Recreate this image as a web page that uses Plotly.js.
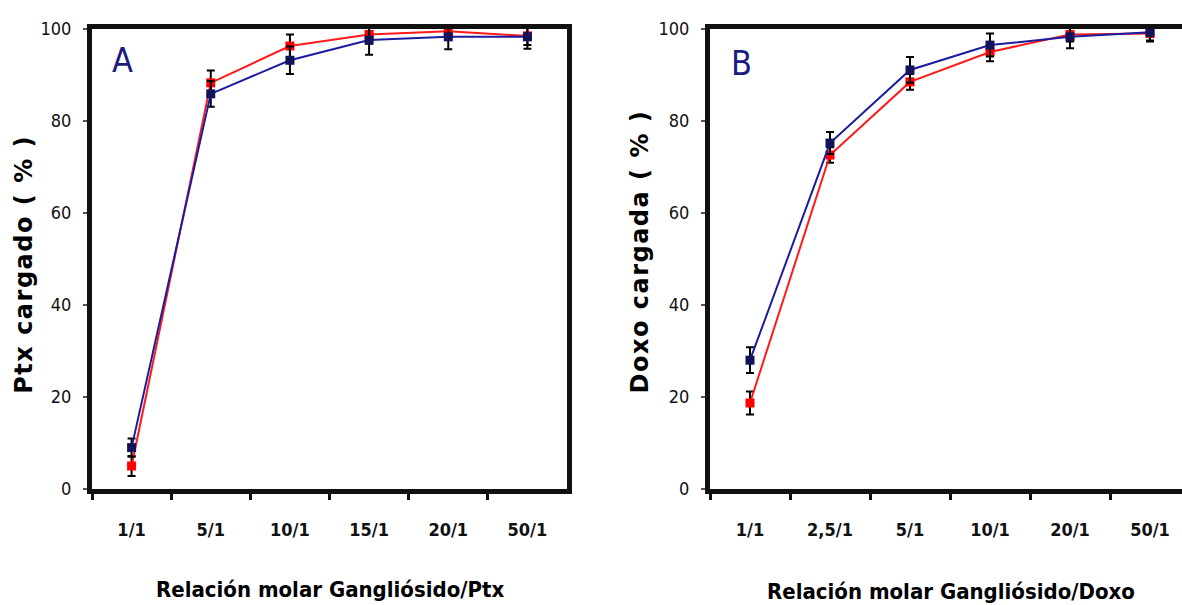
<!DOCTYPE html>
<html>
<head>
<meta charset="utf-8">
<script src="https://cdn.plot.ly/plotly-3.0.1.min.js"></script>
<style>
html,body{margin:0;padding:0;background:#fff;overflow:hidden;}
#chart{width:1182px;height:605px;}
</style>
</head>
<body>
<div id="chart"></div>
<script>
// Panel A: Ptx
const catsA = ['1/1', '5/1', '10/1', '15/1', '20/1', '50/1'];
const redA = [5, 88.3, 96.3, 98.8, 99.5, 98.5];
const redAerr = [2.2, 2.7, 2.5, 2.0, 1.5, 2.0];
const blueA = [9, 85.9, 93.2, 97.6, 98.3, 98.3];
const blueAerr = [2.0, 2.8, 3.0, 3.2, 2.7, 2.6];

// Panel B: Doxo
const catsB = ['1/1', '2,5/1', '5/1', '10/1', '20/1', '50/1'];
const redB = [18.7, 72.6, 88.5, 95.0, 98.8, 99.0];
const redBerr = [2.5, 1.7, 1.7, 2.0, 1.5, 1.5];
const blueB = [28.0, 75.2, 91.1, 96.5, 98.3, 99.3];
const blueBerr = [2.8, 2.4, 2.8, 2.5, 2.5, 2.0];

const yTicks = [0, 20, 40, 60, 80, 100];

const W = 1182, H = 605;
const RED_LINE = '#ff1a1a', RED_MK = '#ff0000';
const BLUE_LINE = '#1c1ca0', BLUE_MK = '#13135a';

function series(x, y, err, lc, mc, xa, ya) {
  return {
    type: 'scatter', mode: 'lines+markers', x: x, y: y,
    xaxis: xa, yaxis: ya, cliponaxis: false, showlegend: false,
    line: {color: lc, width: 2},
    marker: {symbol: 'square', size: 9, color: mc},
    error_y: {type: 'data', array: err, visible: true, color: '#000', thickness: 2, width: 4}
  };
}

const data = [
  series(catsA, redA, redAerr, RED_LINE, RED_MK, 'x', 'y'),
  series(catsA, blueA, blueAerr, BLUE_LINE, BLUE_MK, 'x', 'y'),
  series(catsB, redB, redBerr, RED_LINE, RED_MK, 'x2', 'y2'),
  series(catsB, blueB, blueBerr, BLUE_LINE, BLUE_MK, 'x2', 'y2')
];

const yTop = 1 - 29 / H, yBot = 1 - 489 / H;
const tickFontY = {family: 'DejaVu Sans Condensed', size: 18, color: '#111'};
const tickFontX = {family: 'DejaVu Sans Condensed', size: 18, color: '#111', weight: 'bold'};

function xaxis(domain, range, mirror) {
  return {
    domain: domain, type: 'category', range: range,
    showline: true, linecolor: '#111', linewidth: 5, mirror: mirror,
    ticks: 'outside', tickson: 'boundaries', ticklen: 6, tickwidth: 3, tickcolor: '#111',
    tickfont: tickFontX, ticklabelstandoff: 20,
    showgrid: false, zeroline: false, fixedrange: true
  };
}
function yaxis(anchor, mirror) {
  return {
    domain: [yBot, yTop], anchor: anchor, range: [0, 100],
    tickvals: yTicks, ticktext: yTicks.map(String),
    showline: true, linecolor: '#111', linewidth: 5, mirror: mirror,
    ticks: 'outside', ticklen: 4, tickwidth: 2, tickcolor: '#555',
    tickfont: tickFontY, ticklabelstandoff: 8,
    showgrid: false, zeroline: false, fixedrange: true
  };
}

const xA = xaxis([92 / W, 567 / W], [-0.5, 5.5], true);
xA.anchor = 'y';
const xB = xaxis([710 / W, 1], [-0.5, 5.4], true);
xB.anchor = 'y2';
const yA = yaxis('x', true);
const yB = yaxis('x2', false);

const titleFontX = {family: 'DejaVu Sans Condensed', size: 22, color: '#000', weight: 'bold'};
const titleFontY = {family: 'DejaVu Sans', size: 24, color: '#000', weight: 'bold'};
const letterFont = {family: 'DejaVu Sans Condensed', size: 34, color: '#1c1c80'};

const annotations = [
  {text: 'Relación molar Gangliósido/Ptx', xref: 'paper', yref: 'paper', x: 330 / W, y: 1 - 589 / H, xanchor: 'center', yanchor: 'middle', showarrow: false, font: titleFontX},
  {text: 'Relación molar Gangliósido/Doxo', xref: 'paper', yref: 'paper', x: 951 / W, y: 1 - 591 / H, xanchor: 'center', yanchor: 'middle', showarrow: false, font: titleFontX},
  {text: 'Ptx cargado ( % )', xref: 'paper', yref: 'paper', x: 24 / W, y: 1 - 265 / H, xanchor: 'center', yanchor: 'middle', textangle: -90, showarrow: false, font: titleFontY},
  {text: 'Doxo cargada ( % )', xref: 'paper', yref: 'paper', x: 640 / W, y: 1 - 252 / H, xanchor: 'center', yanchor: 'middle', textangle: -90, showarrow: false, font: titleFontY},
  {text: 'A', xref: 'paper', yref: 'paper', x: 122 / W, y: 1 - 60 / H, xanchor: 'center', yanchor: 'middle', showarrow: false, font: letterFont},
  {text: 'B', xref: 'paper', yref: 'paper', x: 741 / W, y: 1 - 63 / H, xanchor: 'center', yanchor: 'middle', showarrow: false, font: letterFont}
];

const layout = {
  width: W, height: H,
  margin: {l: 0, r: 0, t: 0, b: 0},
  paper_bgcolor: '#fff', plot_bgcolor: '#fff',
  showlegend: false,
  xaxis: xA, yaxis: yA, xaxis2: xB, yaxis2: yB,
  annotations: annotations
};

Plotly.newPlot('chart', data, layout, {displayModeBar: false, staticPlot: true}).then(function (gd) {
  // widen the tracking of the vertical titles, as in the original figure
  gd.querySelectorAll('.annotation-text').forEach(function (t) {
    const s = t.textContent;
    if (s.indexOf('cargad') >= 0) {
      t.style.letterSpacing = '1.5px';
    }
  });
});
</script>
</body>
</html>
